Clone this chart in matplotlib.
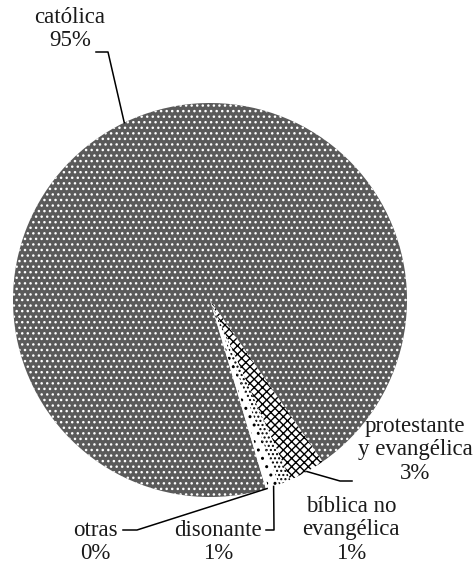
import numpy as np
import matplotlib
matplotlib.use("Agg")
import matplotlib.pyplot as plt

# religion shares (%), in drawing order (clockwise)
labels = ["católica", "protestante\ny evangélica", "bíblica no\nevangélica", "disonante", "otras"]
values = [94.9, 3.0, 1.0, 0.9, 0.2]
faces = ["#5a5a5a", "white", "white", "white", "white"]
hatch_colors = ["white", "black", "black", "black", "white"]
hatches = ["...", "xxxx", "....", "..", None]

# layout in pixels (figure is 476 x 570)
W, H = 476, 570
CX, CY, R = 210, 300, 197
label_pos = [(70, 29), (415, 450), (351, 530), (218, 542), (95, 542)]
# leader elbows: (elbow point, end point) or None
leaders = [((108, 52), (96, 52)),
           ((340, 481), (352, 481)),
           None,
           ((274, 530), (266, 530)),
           ((137, 530), (123, 530))]


def px(x, y):
    return (x - CX) / R, (CY - y) / R


plt.rcParams["font.family"] = ["Liberation Serif", "DejaVu Serif"]
plt.rcParams["hatch.linewidth"] = 1.0

fig = plt.figure(figsize=(W / 100, H / 100), dpi=100)
ax = fig.add_axes([0, 0, 1, 1])

wedges, _ = ax.pie(values, startangle=-73.5, counterclock=False, radius=1,
                   colors=faces, wedgeprops=dict(linewidth=0))
for w, hc, h in zip(wedges, hatch_colors, hatches):
    w.set_edgecolor(hc)
    w.set_linewidth(0)
    if h:
        w.set_hatch(h)

ax.set_xlim(px(0, 0)[0], px(W, 0)[0])
ax.set_ylim(px(0, H)[1], px(0, 0)[1])
ax.set_aspect("equal")
ax.axis("off")

for w, lab, v, pos, ld in zip(wedges, labels, values, label_pos, leaders):
    ax.text(*px(*pos), f"{lab}\n{round(v)}%", ha="center", va="center",
            fontsize=16.5, color="#1a1a1a", linespacing=1.15)
    if ld is None:
        continue
    if lab == "católica":
        ang = np.deg2rad(115.8)
    else:
        ang = np.deg2rad((w.theta1 + w.theta2) / 2)
    start = (np.cos(ang), np.sin(ang))
    e1 = px(*ld[0])
    e2 = px(*ld[1])
    ax.plot([start[0], e1[0], e2[0]], [start[1], e1[1], e2[1]],
            color="black", lw=1.1)

fig.savefig("out.png", dpi=100)
